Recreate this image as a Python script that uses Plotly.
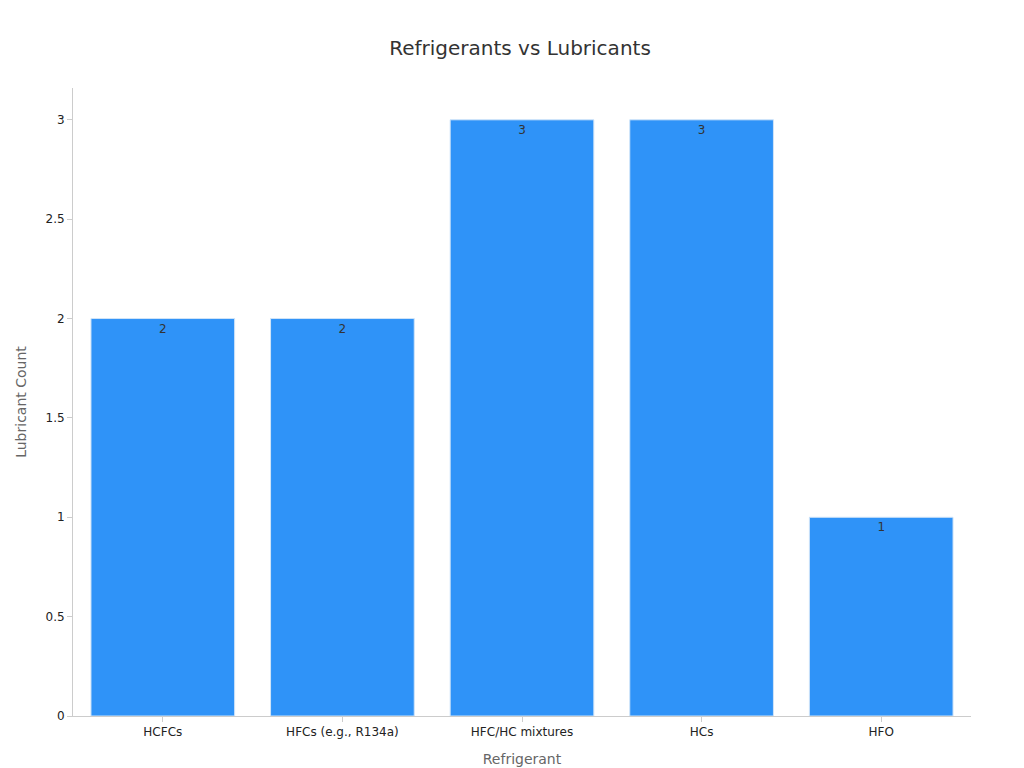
import plotly.graph_objects as go

categories = ["HCFCs", "HFCs (e.g., R134a)", "HFC/HC mixtures", "HCs", "HFO"]
counts = [2, 2, 3, 3, 1]

fig = go.Figure(go.Bar(
    x=categories, y=counts, text=[str(v) for v in counts],
    textposition="inside", insidetextanchor="end",
    textfont=dict(color="#333333", size=12),
    marker=dict(color="#2F93F8", line=dict(color="#D0E4F8", width=1)),
    width=0.8,
))
fig.update_layout(
    width=1024, height=768,
    margin=dict(l=65, r=61, t=80, b=60),
    paper_bgcolor="white", plot_bgcolor="white",
    font=dict(family="DejaVu Sans", size=12, color="#222222"),
    title=dict(text="Refrigerants vs Lubricants", x=0.5, xanchor="center", y=0.957,
               font=dict(size=20, color="#333333")),
    xaxis=dict(title=dict(text="Refrigerant", font=dict(size=14, color="#666666")),
               showline=True, linecolor="#CCCCCC", ticks="outside", tickcolor="#CCCCCC",
               ticklen=5, showgrid=False),
    yaxis=dict(title=dict(text="Lubricant Count", font=dict(size=14, color="#666666")),
               range=[0, 3.16], dtick=0.5, showline=True, linecolor="#CCCCCC",
               ticks="outside", tickcolor="#CCCCCC", ticklen=5, showgrid=False,
               zeroline=False),
    showlegend=False,
)
fig.write_html("out.html")
